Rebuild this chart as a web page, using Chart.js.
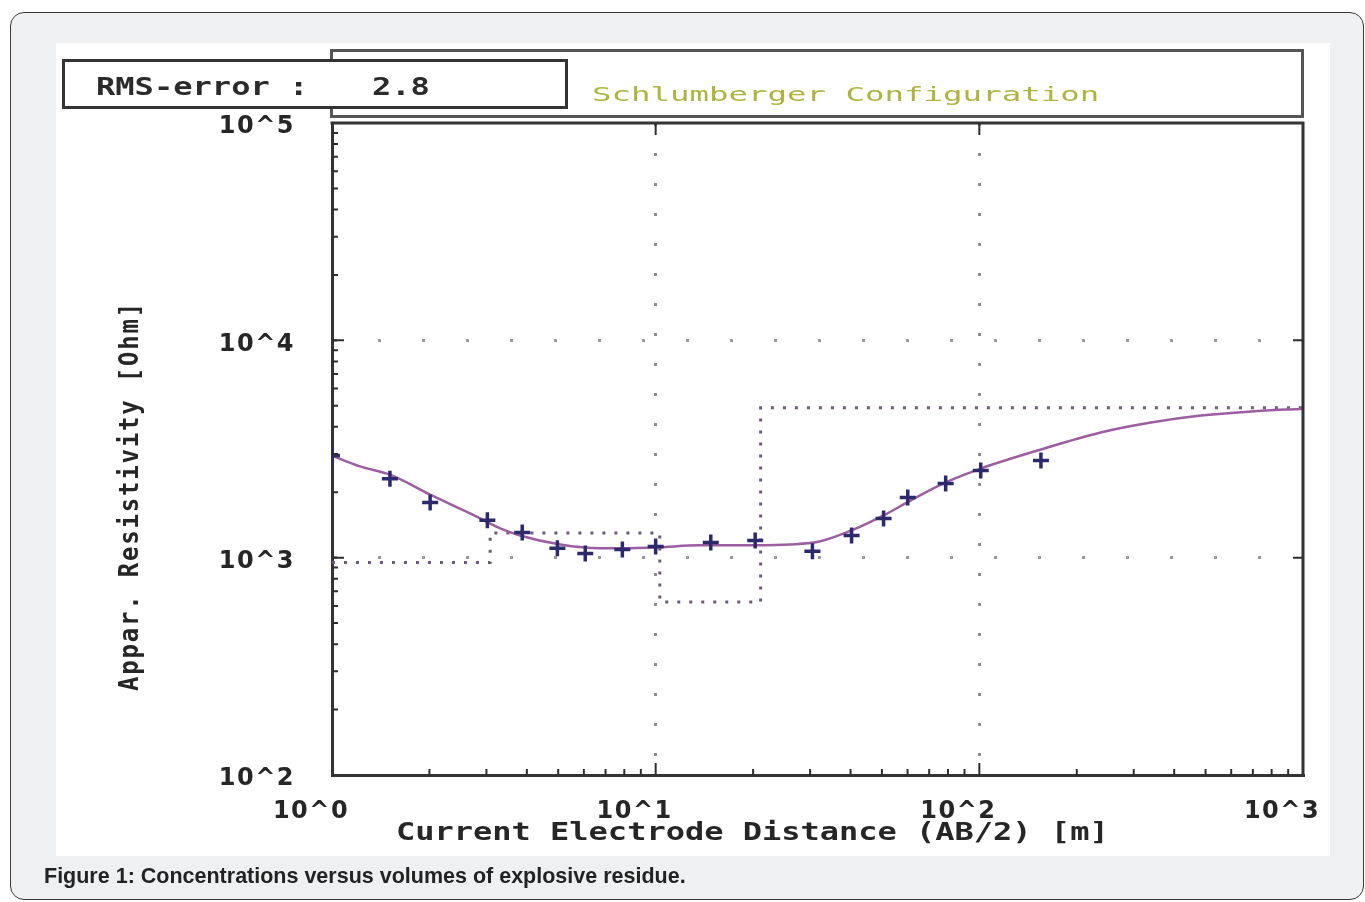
<!DOCTYPE html>
<html>
<head>
<meta charset="utf-8">
<title>Schlumberger sounding</title>
<script src="https://cdn.jsdelivr.net/npm/chart.js@4.4.1/dist/chart.umd.min.js"></script>
<style>
  html, body { margin: 0; padding: 0; background: #fff; width: 1365px; height: 902px; overflow: hidden; }
  #frame { position: absolute; left: 10px; top: 12px; width: 1354px; height: 888px; box-sizing: border-box;
           border: 1.5px solid #3a3a3a; border-radius: 14px; background: #eff0f2; }
  #panel { position: absolute; left: 56px; top: 43px; width: 1274px; height: 813px; background: #fff; }
  #wrap { position: absolute; left: 0; top: 0; width: 1365px; height: 902px; }
  .box { position: absolute; box-sizing: border-box; background: #fff; }
  #titleBox { left: 330px; top: 49px; width: 974px; height: 69px; border: 3px solid #555; }
  #rmsBox { left: 62px; top: 59px; width: 506px; height: 50px; border: 3px solid #333; }
  .mono { position: absolute; white-space: nowrap; font-family: "DejaVu Sans Mono", monospace;
          transform-origin: 0 0; line-height: 1; }
  #rmsLabel, #rmsValue { top: 75px; font-size: 24px; font-weight: bold; color: #2b2b2b; transform: scaleX(1.336); }
  #rmsLabel { left: 96px; }
  #rmsValue { left: 372px; }
  #config { left: 592px; top: 84px; font-size: 20px; color: #adb43f; transform: scaleX(1.62); }
  #caption { position: absolute; left: 44px; top: 864px; font: bold 21.5px "Liberation Sans", Arial, sans-serif; color: #222; white-space: nowrap; }
</style>
</head>
<body>
<div id="frame"></div>
<div id="panel"></div>
<div id="wrap"><canvas id="chart"></canvas></div>
<div id="titleBox" class="box"></div>
<div id="rmsBox" class="box"></div>
<span id="rmsLabel" class="mono">RMS-error :</span>
<span id="rmsValue" class="mono">2.8</span>
<span id="config" class="mono">Schlumberger Configuration</span>
<div id="caption">Figure 1: Concentrations versus volumes of explosive residue.</div>

<script>
// Axis decades and their labels
const decadesX = [1, 10, 100, 1000];
const decadeLabelsX = ['10^0', '10^1', '10^2', '10^3'];
const decadesY = [100, 1000, 10000, 100000];
const decadeLabelsY = ['10^2', '10^3', '10^4', '10^5'];
const minorSteps = [2, 3, 4, 5, 6, 7, 8, 9];
// Decades that carry a dotted grid line
const gridX = [10, 100];
const gridY = [1000, 10000];

// Field readings: AB/2 [m] and apparent resistivity [Ohm m]
const obsAB2 = [1.0, 1.51, 2.01, 3.02, 3.87, 4.97, 6.06, 7.89, 10.0, 14.8, 20.3, 30.5, 40.3, 50.6, 60.1, 78.7, 101, 155];
const obsRho = [2950, 2310, 1795, 1485, 1305, 1105, 1045, 1090, 1125, 1175, 1200, 1070, 1265, 1515, 1890, 2195, 2520, 2800];

// Computed sounding curve of the fitted model
const fitAB2 = [1, 1.22, 1.51, 2.01, 2.67, 3.31, 3.81, 5.07, 6.74, 10, 13.7, 20.3, 26.1, 32.3, 40.3, 50.6, 61.4, 78.7, 101, 155, 237, 339, 484, 691, 1000];
const fitRho = [2950, 2630, 2410, 1950, 1600, 1365, 1265, 1150, 1105, 1115, 1140, 1140, 1150, 1190, 1335, 1565, 1835, 2220, 2570, 3145, 3765, 4185, 4505, 4700, 4850];

// Layered model: layer boundaries [m] and layer resistivities
const layerDepth = [1, 3.08, 10.3, 21.1, 1000];
const layerRho = [950, 1300, 625, 4900, 4900];

const xTitle = 'Current Electrode Distance (AB/2) [m]';
const yTitle = 'Appar. Resistivity [Ohm]';

const withMinors = decades => {
  const out = [];
  decades.forEach((d, i) => {
    out.push(d);
    if (i < decades.length - 1) minorSteps.forEach(m => out.push(d * m));
  });
  return out;
};
const xTicks = withMinors(decadesX);
const yTicks = withMinors(decadesY);
const points = (xs, ys) => xs.map((x, i) => ({ x, y: ys[i] }));
const near = (a, b) => Math.abs(a - b) / b < 1e-6;
const labelOf = (v, decades, labels) => {
  const i = decades.findIndex(d => near(v, d));
  return i >= 0 ? labels[i] : '';
};

const TXT = '#262626';
const MONO = 'DejaVu Sans Mono';
const SANS = 'DejaVu Sans';

// Frame edges, inward tick marks and axis titles
const framePlugin = {
  id: 'frame',
  beforeDraw(chart) {
    chart.ctx.letterSpacing = '1.5px';
  },
  afterDraw(chart) {
    const { ctx, chartArea: a, scales: { x, y } } = chart;
    ctx.save();
    ctx.strokeStyle = '#333';
    ctx.lineWidth = 3;
    ctx.beginPath();
    ctx.moveTo(a.left - 1.5, a.top);
    ctx.lineTo(a.right, a.top);
    ctx.lineTo(a.right, a.bottom + 1.5);
    ctx.stroke();

    ctx.lineWidth = 2;
    ctx.strokeStyle = '#2e2e2e';
    ctx.beginPath();
    x.ticks.forEach(t => {
      const px = x.getPixelForValue(t.value);
      const major = decadesX.some(d => near(t.value, d));
      if (px <= a.left + 1 || px >= a.right - 1) return;
      const len = major ? 12 : 6;
      ctx.moveTo(px, a.bottom);
      ctx.lineTo(px, a.bottom - len);
      if (major) {
        ctx.moveTo(px, a.top);
        ctx.lineTo(px, a.top + 12);
      }
    });
    y.ticks.forEach(t => {
      const py = y.getPixelForValue(t.value);
      const major = decadesY.some(d => near(t.value, d));
      if (py <= a.top + 1 || py >= a.bottom - 1) return;
      const len = major ? 12 : 6;
      ctx.moveTo(a.left, py);
      ctx.lineTo(a.left + len, py);
      if (major) {
        ctx.moveTo(a.right, py);
        ctx.lineTo(a.right - 10, py);
      }
    });
    ctx.stroke();

    ctx.fillStyle = TXT;
    ctx.textBaseline = 'alphabetic';
    ctx.letterSpacing = '0px';

    // horizontal axis title, drawn with wide glyphs
    ctx.save();
    ctx.font = `bold 24px "${MONO}"`;
    ctx.translate(a.left + 64, a.bottom + 65);
    ctx.scale(1.333, 1);
    ctx.textAlign = 'left';
    ctx.fillText(xTitle, 0, 0);
    ctx.restore();

    // vertical axis title
    ctx.save();
    ctx.font = `bold 24px "${MONO}"`;
    ctx.letterSpacing = '1.8px';
    ctx.translate(138, (a.top + a.bottom) / 2 + 47);
    ctx.rotate(-Math.PI / 2);
    ctx.scale(1, 1.12);
    ctx.textAlign = 'center';
    ctx.fillText(yTitle, 0, 0);
    ctx.restore();
    ctx.restore();
  }
};

new Chart(document.getElementById('chart'), {
  type: 'line',
  data: {
    datasets: [
      {
        label: 'Measured',
        data: points(obsAB2, obsRho),
        showLine: false,
        pointStyle: 'cross',
        pointRadius: 8,
        pointBorderWidth: 3.5,
        pointBorderColor: '#2c2a6c',
        pointBackgroundColor: '#2c2a6c',
        order: 0
      },
      {
        label: 'Model response',
        data: points(fitAB2, fitRho),
        borderColor: '#9c5ea0',
        borderWidth: 2.5,
        pointRadius: 0,
        cubicInterpolationMode: 'monotone',
        order: 1
      },
      {
        label: 'Layers',
        data: points(layerDepth, layerRho),
        stepped: true,
        borderColor: '#6c5a76',
        borderWidth: 3,
        borderDash: [3, 9],
        pointRadius: 0,
        order: 2
      }
    ]
  },
  options: {
    responsive: true,
    maintainAspectRatio: false,
    animation: false,
    layout: { padding: { left: 0, top: 123, right: 62, bottom: 0 } },
    plugins: { legend: { display: false }, tooltip: { enabled: false } },
    scales: {
      x: {
        type: 'logarithmic',
        min: 1,
        max: 1000,
        afterBuildTicks: s => { s.ticks = xTicks.map(v => ({ value: v })); },
        afterFit: s => { s.height = 127; },
        ticks: {
          autoSkip: false,
          maxRotation: 0,
          labelOffset: -21,
          padding: 22,
          color: TXT,
          font: { family: SANS, size: 24, weight: 'bold' },
          callback: v => labelOf(v, decadesX, decadeLabelsX)
        },
        grid: {
          drawTicks: false,
          lineWidth: 3,
          color: c => (c.tick && gridX.some(d => near(c.tick.value, d))) ? '#8c8c8c' : 'rgba(0,0,0,0)'
        },
        border: { display: true, width: 3, color: '#333', dash: [3, 27] }
      },
      y: {
        type: 'logarithmic',
        min: 100,
        max: 100000,
        afterBuildTicks: s => { s.ticks = yTicks.map(v => ({ value: v })); },
        afterFit: s => { s.width = 332; },
        ticks: {
          autoSkip: false,
          labelOffset: 4,
          padding: 37,
          color: TXT,
          font: { family: SANS, size: 24, weight: 'bold' },
          callback: v => labelOf(v, decadesY, decadeLabelsY)
        },
        grid: {
          drawTicks: false,
          lineWidth: 3,
          color: c => (c.tick && gridY.some(d => near(c.tick.value, d))) ? '#9a9a9a' : 'rgba(0,0,0,0)'
        },
        border: { display: true, width: 3, color: '#333', dash: [3, 41] }
      }
    }
  },
  plugins: [framePlugin]
});
</script>
</body>
</html>
